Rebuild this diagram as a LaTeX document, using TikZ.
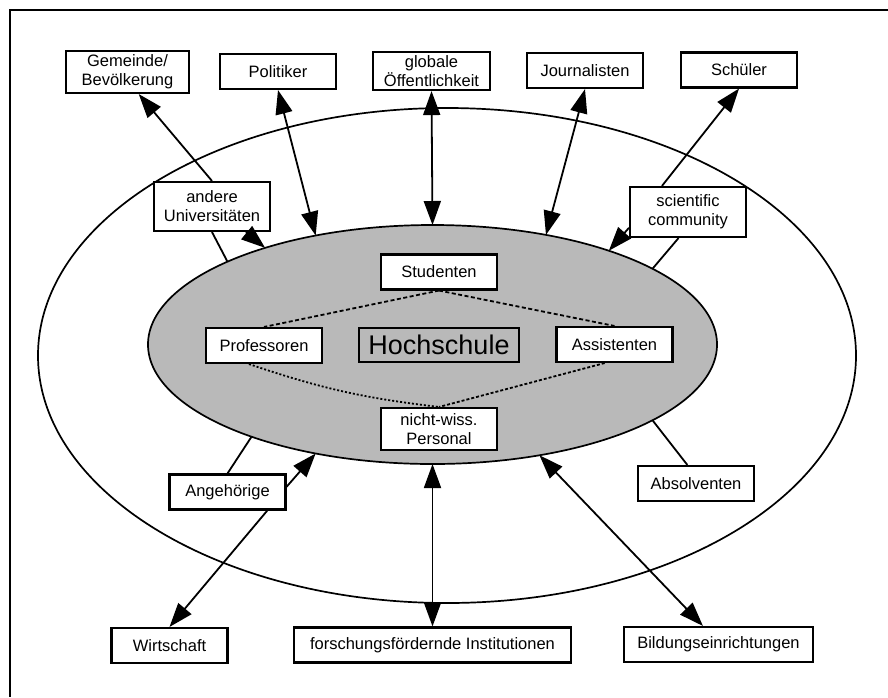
\documentclass[tikz,border=0pt]{standalone}
\usepackage{fontspec}
\setmainfont{Liberation Sans}
\usetikzlibrary{arrows.meta,shapes.geometric}

\begin{document}
\begin{tikzpicture}
    [ x=1pt, y=-1pt, line width=1.8pt,
      font=\fontsize{16.5}{19}\selectfont,
      box/.style={draw, fill=white, line width=2.1pt, minimum width=116pt, minimum height=35pt,
                  inner sep=3pt, align=center},
      link/.style={-{Triangle[length=24pt,width=17pt]}},
      twoway/.style={{Triangle[length=24pt,width=17pt]}-{Triangle[length=24pt,width=17pt]}},
      tie/.style={line width=1.8pt, dash pattern=on 4pt off 2.5pt},
    ]
    \useasboundingbox (0,0) rectangle (888,697);
    \draw[line width=2pt] (888,10) -- (10,10) -- (10,697);

    % the two rings
    \node[ellipse, draw, line width=1.7pt, minimum width=818pt, minimum height=495pt,
          inner sep=0pt, outer sep=0pt] (ring) at (447,355.5) {};
    \node[ellipse, draw, line width=1.7pt, fill=gray!55, minimum width=569pt, minimum height=239pt,
          inner sep=0pt, outer sep=0pt] (hs) at (432.5,344.5) {};

    % inside
    \node[draw, line width=2.1pt, minimum width=160pt, minimum height=34pt,
          font=\fontsize{27}{30}\selectfont] (hsname) at (439,345) {Hochschule};
    \node[box] (stud) at (439,272) {Studenten};
    \node[box] (prof) at (264,345.5) {Professoren};
    \node[box] (asst) at (614.5,344.5) {Assistenten};
    \node[box, minimum height=42pt] (nicht) at (439,429) {nicht-wiss.\\Personal};

    % ring
    \node[box, minimum height=49pt] (uni) at (212,206.5) {andere\\Universitäten};
    \node[box, minimum height=50pt] (sci) at (688,212) {scientific\\community};
    \node[box] (ang) at (227.5,492) {Angehörige};
    \node[box] (abs) at (696,483.5) {Absolventen};

    % outside
    \node[box, minimum width=123pt, minimum height=42pt] (gem) at (127.5,72) {Gemeinde/\\Bevölkerung};
    \node[box] (pol) at (278,71.5) {Politiker};
    \node[box, minimum width=117pt, minimum height=38pt] (glob) at (431.5,71) {globale\\Öffentlichkeit};
    \node[box] (jour) at (585,70.5) {Journalisten};
    \node[box] (schu) at (739,70) {Schüler};
    \node[box] (wirt) at (169.5,645.5) {Wirtschaft};
    \node[box, minimum width=277pt] (forsch) at (432.5,645) {forschungsfördernde Institutionen};
    \node[box, minimum width=189pt] (bild) at (718.5,644.5) {Bildungseinrichtungen};

    % Gruppen der Hochschule
    \draw[tie] (stud.south) -- (prof.north);
    \draw[tie] (stud.south) -- (asst.north);
    \draw[tie, dash pattern=on 2pt off 2pt] (prof.231) to[bend right=6] (nicht.north);
    \draw[tie, dash pattern=on 3pt off 2pt] (asst.242) -- (nicht.north);

    % Gruppen im Ring
    \draw (hs.158) -- (uni.south);
    \draw[link] (uni.-37) -- (hs.150);
    \draw[link] (uni.north) -- (gem.-63);
    \draw (hs.19) -- (sci.250);
    \draw[link] (sci.195) -- (hs.28);
    \draw[link] (sci.135) -- (schu.south);
    \draw (hs.207) -- (ang.north);
    \draw[link] (ang.5) -- (hs.223);
    \draw[link] (ang.-25) -- (wirt.north);
    \draw (hs.-19) -- (abs.115);

    % Austausch nach aussen
    \foreach \from / \to in {pol.south/hs.137, glob.south/hs.north, jour.south/hs.44,
                             forsch.north/hs.south, bild.130/hs.-46} {
        \draw[twoway] (\from) -- (\to);
    }
\end{tikzpicture}
\end{document}
